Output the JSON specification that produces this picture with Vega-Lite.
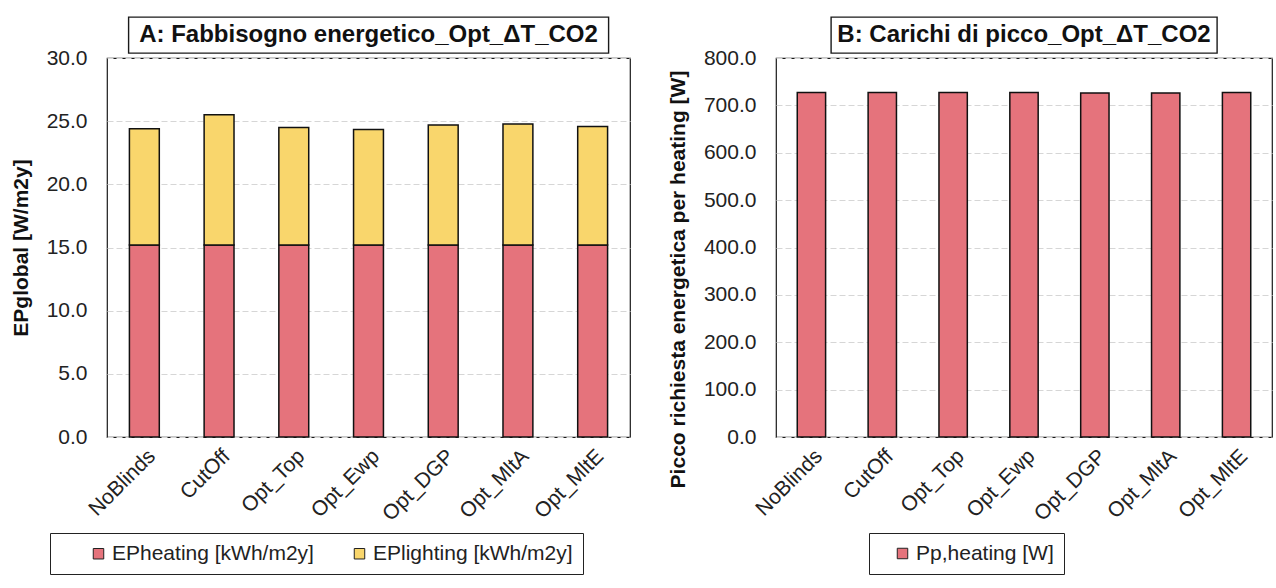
{
  "$schema": "https://vega.github.io/schema/vega-lite/v6.json",
  "background": "white",
  "padding": {"left": 9, "top": 16, "right": 2, "bottom": 2},
  "config": {
    "font": "Liberation Sans",
    "view": {"stroke": "#1a1a1a", "strokeWidth": 1.2, "fill": "white"},
    "axis": {
      "labelFont": "Liberation Sans",
      "labelFontSize": 21,
      "labelColor": "#222222",
      "titleFont": "Liberation Sans",
      "titleFontSize": 21,
      "titleFontWeight": "bold",
      "titleColor": "#111111",
      "ticks": false,
      "domain": false,
      "gridColor": "#d6d6d6",
      "gridDash": [6, 3],
      "gridWidth": 1
    },
    "legend": {
      "orient": "none",
      "direction": "horizontal",
      "title": null,
      "strokeColor": "#222222",
      "fillColor": "white",
      "padding": 10,
      "symbolType": "square",
      "symbolSize": 110,
      "symbolStrokeColor": "#222222",
      "symbolStrokeWidth": 1,
      "labelFont": "Liberation Sans",
      "labelFontSize": 21,
      "labelColor": "#222222",
      "labelOffset": 3,
      "labelLimit": 400,
      "columnPadding": 7
    }
  },
  "resolve": {"scale": {"color": "independent"}, "legend": {"color": "independent"}},
  "spacing": 35,
  "hconcat": [
    {
      "spacing": 5,
      "bounds": "flush",
      "center": true,
      "resolve": {"scale": {"color": "independent"}, "legend": {"color": "independent"}},
      "vconcat": [
        {
          "width": 480,
          "height": 36,
          "view": {"stroke": "#1a1a1a", "strokeWidth": 1.4, "fill": "white"},
          "data": {"values": [{"titolo": "A: Fabbisogno energetico_Opt_ΔT_CO2"}]},
          "mark": {"type": "text", "font": "Liberation Sans", "fontSize": 24, "fontWeight": "bold", "color": "#111111"},
          "encoding": {"text": {"field": "titolo"}}
        },
        {
          "width": 523,
          "height": 379,
          "data": {
            "values": [
              {"scenario": "NoBlinds", "serie": "EPheating [kWh/m2y]", "valore": 15.2},
              {"scenario": "NoBlinds", "serie": "EPlighting [kWh/m2y]", "valore": 9.2},
              {"scenario": "CutOff", "serie": "EPheating [kWh/m2y]", "valore": 15.2},
              {"scenario": "CutOff", "serie": "EPlighting [kWh/m2y]", "valore": 10.3},
              {"scenario": "Opt_Top", "serie": "EPheating [kWh/m2y]", "valore": 15.2},
              {"scenario": "Opt_Top", "serie": "EPlighting [kWh/m2y]", "valore": 9.3},
              {"scenario": "Opt_Ewp", "serie": "EPheating [kWh/m2y]", "valore": 15.2},
              {"scenario": "Opt_Ewp", "serie": "EPlighting [kWh/m2y]", "valore": 9.15},
              {"scenario": "Opt_DGP", "serie": "EPheating [kWh/m2y]", "valore": 15.2},
              {"scenario": "Opt_DGP", "serie": "EPlighting [kWh/m2y]", "valore": 9.5},
              {"scenario": "Opt_MltA", "serie": "EPheating [kWh/m2y]", "valore": 15.2},
              {"scenario": "Opt_MltA", "serie": "EPlighting [kWh/m2y]", "valore": 9.58},
              {"scenario": "Opt_MltE", "serie": "EPheating [kWh/m2y]", "valore": 15.2},
              {"scenario": "Opt_MltE", "serie": "EPlighting [kWh/m2y]", "valore": 9.37}
            ]
          },
          "mark": {"type": "bar", "stroke": "#111111", "strokeWidth": 1.5},
          "encoding": {
            "x": {
              "field": "scenario",
              "type": "nominal",
              "sort": null,
              "scale": {"paddingInner": 0.6, "paddingOuter": 0.3},
              "axis": {"title": null, "labelAngle": -45, "labelPadding": 8, "grid": false}
            },
            "y": {
              "field": "valore",
              "type": "quantitative",
              "stack": "zero",
              "scale": {"domain": [0, 30]},
              "axis": {
                "title": "EPglobal [W/m2y]",
                "values": [0, 5, 10, 15, 20, 25, 30],
                "format": ".1f",
                "labelPadding": 20,
                "titlePadding": 15
              }
            },
            "order": {"field": "serie", "type": "nominal", "sort": "ascending"},
            "color": {
              "field": "serie",
              "type": "nominal",
              "scale": {
                "domain": ["EPheating [kWh/m2y]", "EPlighting [kWh/m2y]"],
                "range": ["#E5737C", "#F9D66C"]
              },
              "legend": {"legendX": -57, "legendY": 475, "symbolOffset": 28}
            }
          }
        }
      ]
    },
    {
      "spacing": 5,
      "bounds": "flush",
      "center": true,
      "resolve": {"scale": {"color": "independent"}, "legend": {"color": "independent"}},
      "vconcat": [
        {
          "width": 386,
          "height": 36,
          "view": {"stroke": "#1a1a1a", "strokeWidth": 1.4, "fill": "white"},
          "data": {"values": [{"titolo": "B: Carichi di picco_Opt_ΔT_CO2"}]},
          "mark": {"type": "text", "font": "Liberation Sans", "fontSize": 24, "fontWeight": "bold", "color": "#111111"},
          "encoding": {"text": {"field": "titolo"}}
        },
        {
          "width": 496,
          "height": 379,
          "data": {
            "values": [
              {"scenario": "NoBlinds", "serie": "Pp,heating [W]", "valore": 727},
              {"scenario": "CutOff", "serie": "Pp,heating [W]", "valore": 727},
              {"scenario": "Opt_Top", "serie": "Pp,heating [W]", "valore": 727},
              {"scenario": "Opt_Ewp", "serie": "Pp,heating [W]", "valore": 727},
              {"scenario": "Opt_DGP", "serie": "Pp,heating [W]", "valore": 726},
              {"scenario": "Opt_MltA", "serie": "Pp,heating [W]", "valore": 726},
              {"scenario": "Opt_MltE", "serie": "Pp,heating [W]", "valore": 727}
            ]
          },
          "mark": {"type": "bar", "stroke": "#111111", "strokeWidth": 1.5},
          "encoding": {
            "x": {
              "field": "scenario",
              "type": "nominal",
              "sort": null,
              "scale": {"paddingInner": 0.6, "paddingOuter": 0.3},
              "axis": {"title": null, "labelAngle": -45, "labelPadding": 8, "grid": false}
            },
            "y": {
              "field": "valore",
              "type": "quantitative",
              "scale": {"domain": [0, 800]},
              "axis": {
                "title": "Picco richiesta energetica per heating [W]",
                "values": [0, 100, 200, 300, 400, 500, 600, 700, 800],
                "format": ".1f",
                "labelPadding": 20,
                "titlePadding": 15,
                "titleY": 221
              }
            },
            "color": {
              "field": "serie",
              "type": "nominal",
              "scale": {"domain": ["Pp,heating [W]"], "range": ["#E5737C"]},
              "legend": {"legendX": 93, "legendY": 475, "symbolOffset": 13}
            }
          }
        }
      ]
    }
  ]
}
